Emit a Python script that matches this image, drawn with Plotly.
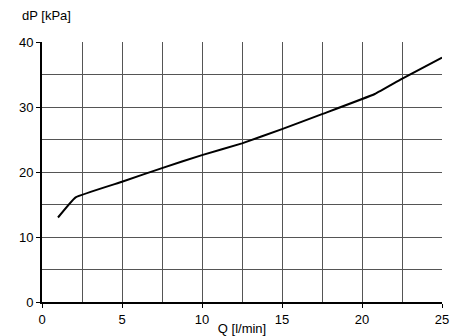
import plotly.graph_objects as go

q = [1.0, 2.1, 5.0, 7.5, 10.0, 12.5, 15.0, 17.5, 20.8, 22.4, 25.0]
dp = [13.0, 16.1, 18.5, 20.6, 22.6, 24.4, 26.6, 28.9, 32.0, 34.2, 37.6]

x_ticks = [0, 5, 10, 15, 20, 25]
y_ticks = [0, 10, 20, 30, 40]

fig = go.Figure()
fig.add_trace(go.Scatter(x=q, y=dp, mode="lines", line_shape="spline",
                         line=dict(color="black", width=2, smoothing=0.3), showlegend=False))

fig.update_layout(
    width=475, height=336,
    margin=dict(l=41.5, r=33, t=42, b=34, autoexpand=False),
    paper_bgcolor="white", plot_bgcolor="white",
    font=dict(family="Liberation Sans, Arial", size=13, color="black"),
    xaxis=dict(range=[0, 25], tickvals=x_ticks, automargin=False,
               showgrid=True, gridcolor="#555", gridwidth=1, zeroline=False,
               showline=True, linecolor="black", linewidth=2,
               ticks="outside", ticklen=4, tickcolor="black",
               minor=dict(dtick=2.5, tick0=0, showgrid=True, gridcolor="#555", gridwidth=1),
               title=dict(text="Q [l/min]", standoff=0, font=dict(size=13))),
    yaxis=dict(range=[0, 40], tickvals=y_ticks, automargin=False,
               showgrid=True, gridcolor="#555", gridwidth=1, zeroline=False,
               showline=True, linecolor="black", linewidth=2,
               ticks="outside", ticklen=4, tickcolor="black",
               minor=dict(dtick=5, tick0=0, showgrid=True, gridcolor="#555", gridwidth=1)),
    annotations=[dict(text="dP [kPa]", xref="paper", yref="paper",
                      x=-0.054, y=1.0, yshift=27, xanchor="left", yanchor="middle",
                      showarrow=False, font=dict(size=13))],
)

fig.write_html("out.html")
